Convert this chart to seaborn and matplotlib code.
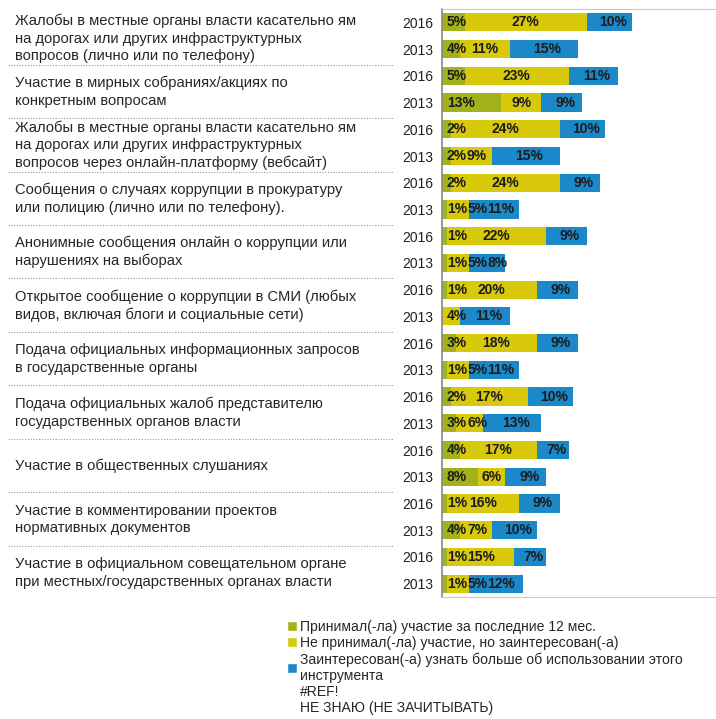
import matplotlib
matplotlib.use('Agg')
import matplotlib.pyplot as plt
from matplotlib.patches import Patch
from matplotlib.transforms import blended_transform_factory
import seaborn as sns
import pandas as pd

# Data
items = [
    'Жалобы в местные органы власти касательно ям\nна дорогах или других инфраструктурных\nвопросов (лично или по телефону)',
    'Участие в мирных собраниях/акциях по\nконкретным вопросам',
    'Жалобы в местные органы власти касательно ям\nна дорогах или других инфраструктурных\nвопросов через онлайн-платформу (вебсайт)',
    'Сообщения о случаях коррупции в прокуратуру\nили полицию (лично или по телефону).',
    'Анонимные сообщения онлайн о коррупции или\nнарушениях на выборах',
    'Открытое сообщение о коррупции в СМИ (любых\nвидов, включая блоги и социальные сети)',
    'Подача официальных информационных запросов\nв государственные органы',
    'Подача официальных жалоб представителю\nгосударственных органов власти',
    'Участие в общественных слушаниях',
    'Участие в комментировании проектов\nнормативных документов',
    'Участие в официальном совещательном органе\nпри местных/государственных органах власти',
]
years = ['2016', '2013']

took_part_2016 = [5, 5, 2, 2, 1, 1, 3, 2, 4, 1, 1]
took_part_2013 = [4, 13, 2, 1, 1, 0, 1, 3, 8, 4, 1]
interested_2016 = [27, 23, 24, 24, 22, 20, 18, 17, 17, 16, 15]
interested_2013 = [11, 9, 9, 5, 5, 4, 5, 6, 6, 7, 5]
learn_more_2016 = [10, 11, 10, 9, 9, 9, 9, 10, 7, 9, 7]
learn_more_2013 = [15, 9, 15, 11, 8, 11, 11, 13, 9, 10, 12]

legend_labels = [
    'Принимал(-ла) участие за последние 12 мес.',
    'Не принимал(-ла) участие, но заинтересован(-а)',
    'Заинтересован(-а) узнать больше об использовании этого\nинструмента',
    '#REF!',
    'НЕ ЗНАЮ (НЕ ЗАЧИТЫВАТЬ)',
]

c_took = '#a3b21b'
c_int = '#d8c90a'
c_learn = '#1a88c9'

# Build long table, one row per bar
rows = []
for i in range(len(items)):
    for yr, a, b, c in [(years[0], took_part_2016[i], interested_2016[i], learn_more_2016[i]),
                        (years[1], took_part_2013[i], interested_2013[i], learn_more_2013[i])]:
        rows.append({'key': f'{i}-{yr}', 'year': yr, 'took': a, 'interested': b, 'learn': c})
df = pd.DataFrame(rows)
df['cum2'] = df['took'] + df['interested']
df['cum3'] = df['cum2'] + df['learn']
keys = list(df['key'])

sns.set_style('white')
plt.rcParams['font.family'] = ['Liberation Sans', 'DejaVu Sans']

fig = plt.figure(figsize=(7.16, 7.19), dpi=100)
ax = fig.add_axes([442 / 716, 1 - 597 / 719, (716 - 442) / 716, (597 - 9) / 719])

# stacked bars by overlaying cumulative totals
for col, colr in [('cum3', c_learn), ('cum2', c_int), ('took', c_took)]:
    sns.barplot(data=df, x=col, y='key', order=keys, color=colr, saturation=1,
                width=0.68, linewidth=0, ax=ax)

ax.set_xlim(0, 60.6)
ax.set_ylim(len(keys) - 0.5, -0.5)

# value labels: centred on segment, pushed right if they would overlap
lab_kw = dict(va='center', fontsize=10, fontweight='bold', color='#1c1c1c')
renderer = fig.canvas.get_renderer()
px_per_unit = ax.transData.transform((1, 0))[0] - ax.transData.transform((0, 0))[0]
for pos, r in df.reset_index(drop=True).iterrows():
    prev_right = 0.0
    segs = [(r['took'], None), (r['interested'], r['took'] + r['interested'] / 2),
            (r['learn'], r['cum2'] + r['learn'] / 2 + 0.8)]
    for k, (val, centre) in enumerate(segs):
        if val <= 0:
            continue
        t = ax.text(0, pos, f'{val}%', ha='center', **lab_kw)
        w = t.get_window_extent(renderer).width / px_per_unit
        if centre is None:
            centre = 1.1 + w / 2
        x = max(centre, prev_right + w / 2, 1.1 + w / 2)
        t.set_x(x)
        prev_right = x + w / 2

ax.set_xticks([])
ax.set_yticks(range(len(keys)))
ax.set_yticklabels(df['year'], fontsize=10, color='#222222')
ax.tick_params(axis='y', length=0, pad=6)
ax.set_xlabel('')
ax.set_ylabel('')
for side in ['top', 'bottom']:
    ax.spines[side].set_color('#c8c8c8')
    ax.spines[side].set_linewidth(0.8)
ax.spines['left'].set_color('#888888')
ax.spines['left'].set_linewidth(1.2)
ax.spines['right'].set_visible(False)

# category labels and dotted separators on the left
tr = blended_transform_factory(fig.transFigure, ax.transData)
for i, name in enumerate(items):
    ax.text(15 / 716, 2 * i + 0.6, name, transform=tr, ha='left', va='center',
            fontsize=10.6, color='#262626', linespacing=1.32, clip_on=False)
    if i < len(items) - 1:
        ax.plot([8 / 716, 393 / 716], [2 * i + 1.58, 2 * i + 1.58], transform=tr,
                color='#9a9a9a', linestyle=(0, (1, 1.5)), linewidth=0.8, clip_on=False)

# legend
handles = [Patch(facecolor=c_took), Patch(facecolor=c_int), Patch(facecolor=c_learn),
           Patch(facecolor='none', edgecolor='none'), Patch(facecolor='none', edgecolor='none')]
fig.legend(handles, legend_labels, loc='upper left', bbox_to_anchor=(287 / 716, 1 - 620 / 719),
           frameon=False, fontsize=10.1, handlelength=0.7, handleheight=0.7,
           handletextpad=0.2, labelspacing=0.15, borderpad=0, borderaxespad=0)

fig.savefig('out.png', dpi=100, facecolor='white')
